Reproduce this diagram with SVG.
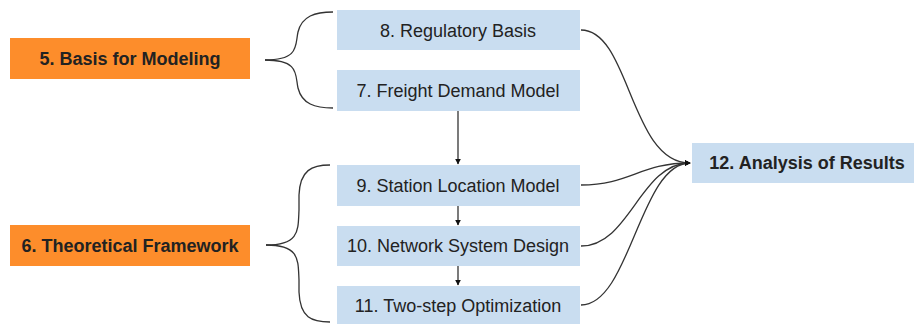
<svg xmlns="http://www.w3.org/2000/svg" width="914" height="324" viewBox="0 0 914 324">
<style>
.orange{fill:#fd8d2b}
.blue{fill:#c9ddf0}
.t{font-family:"Liberation Sans",Arial,sans-serif;font-size:18px;fill:#222;text-anchor:middle;dominant-baseline:central}
.b{font-weight:bold}
.ln{fill:none;stroke:#333;stroke-width:1.3}
</style>
<defs>
<marker id="ah" viewBox="0 0 10 10" refX="9" refY="5" markerWidth="6" markerHeight="6" orient="auto" markerUnits="userSpaceOnUse">
<path d="M0,0 L10,5 L0,10 z" fill="#111"/>
</marker>
</defs>
<rect width="914" height="324" fill="#fff"/>
<g id="connectors">
<path class="ln" d="M265,60 C300,60 295,45 298,32 C302,16 315,12 333,12"/>
<path class="ln" d="M265,60 C300,60 295,75 298,88 C302,104 315,108 333,108"/>
<path class="ln" d="M266,245 C300,245 298,230 299,210 L299,195 C300,170 312,165 330,165"/>
<path class="ln" d="M266,245 C300,245 298,260 299,280 L299,292 C300,318 312,322 330,322"/>
<path class="ln" d="M458,111 L458,164" marker-end="url(#ah)"/>
<path class="ln" d="M458,206 L458,225" marker-end="url(#ah)"/>
<path class="ln" d="M458,266 L458,285" marker-end="url(#ah)"/>
<path class="ln" d="M581,30 C630,30 630,163 690,163" marker-end="url(#ah)"/>
<path class="ln" d="M581,185 C630,185 640,163 690,163" marker-end="url(#ah)"/>
<path class="ln" d="M581,246 C630,246 640,163 690,163" marker-end="url(#ah)"/>
<path class="ln" d="M581,305 C630,305 640,163 690,163" marker-end="url(#ah)"/>
</g>
<g id="n5"><rect class="orange" x="10" y="38" width="240" height="41"/><text class="t b" x="130" y="59">5. Basis for Modeling</text></g>
<g id="n6"><rect class="orange" x="10" y="225" width="240" height="41"/><text class="t b" x="130" y="246">6. Theoretical Framework</text></g>
<g id="n8"><rect class="blue" x="337" y="10" width="243" height="40"/><text class="t" x="458" y="31">8. Regulatory Basis</text></g>
<g id="n7"><rect class="blue" x="337" y="70" width="243" height="41"/><text class="t" x="458" y="91">7. Freight Demand Model</text></g>
<g id="n9"><rect class="blue" x="337" y="165" width="243" height="41"/><text class="t" x="458" y="186">9. Station Location Model</text></g>
<g id="n10"><rect class="blue" x="337" y="226" width="243" height="40"/><text class="t" x="458" y="246">10. Network System Design</text></g>
<g id="n11"><rect class="blue" x="337" y="286" width="243" height="40"/><text class="t" x="458" y="306">11. Two-step Optimization</text></g>
<g id="n12"><rect class="blue" x="692" y="143" width="222" height="40"/><text class="t b" x="807" y="163">12. Analysis of Results</text></g>
</svg>
